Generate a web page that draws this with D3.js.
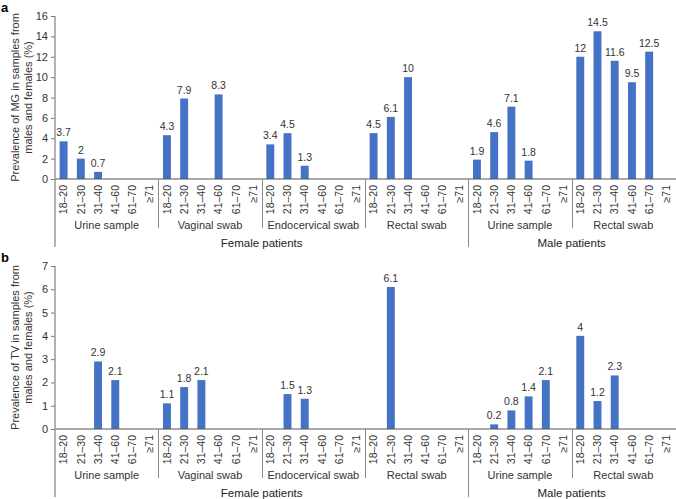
<!DOCTYPE html>
<html>
<head>
<meta charset="utf-8">
<script src="https://cdn.jsdelivr.net/npm/d3@7"></script>
<style>
  html, body { margin: 0; padding: 0; background: #fff; }
  svg { display: block; font-family: "Liberation Sans", Arial, Helvetica, sans-serif; }
</style>
</head>
<body>
<svg id="chart" width="676" height="499"></svg>
<script>
// ---------------- data ----------------
const ageGroups = ["18–20", "21–30", "31–40", "41–60", "61–70", "≥71"];
const sampleTypes = ["Urine sample", "Vaginal swab", "Endocervical swab", "Rectal swab", "Urine sample", "Rectal swab"];
const patientGroups = ["Female patients", "Male patients"];
const patientGroupSizes = [4, 2];

// Panel a: MG prevalence (%) per sample type, per age group (null = no bar)
const mgValues = [
  [3.7, 2, 0.7, null, null, null],
  [4.3, 7.9, null, 8.3, null, null],
  [3.4, 4.5, 1.3, null, null, null],
  [4.5, 6.1, 10, null, null, null],
  [1.9, 4.6, 7.1, 1.8, null, null],
  [12, 14.5, 11.6, 9.5, 12.5, null]
];
// Panel b: TV prevalence (%)
const tvValues = [
  [null, null, 2.9, 2.1, null, null],
  [1.1, 1.8, 2.1, null, null, null],
  [null, 1.5, 1.3, null, null, null],
  [null, 6.1, null, null, null, null],
  [null, 0.2, 0.8, 1.4, 2.1, null],
  [4, 1.2, 2.3, null, null, null]
];
const mgTicks = [0, 2, 4, 6, 8, 10, 12, 14, 16];
const tvTicks = [0, 1, 2, 3, 4, 5, 6, 7];

const panels = [
  { letter: "a", values: mgValues, ticks: mgTicks, max: 16, yTitle: ["Prevalence of MG in samples from", "males and females (%)"], top: 16 },
  { letter: "b", values: tvValues, ticks: tvTicks, max: 7, yTitle: ["Prevalence of TV in samples from", "males and females (%)"], top: 266 }
];

// ---------------- layout ----------------
const svg = d3.select("#chart");
const left = 55, right = 675;
const plotH = 163;
const barColor = "#4472C4";
const textColor = "#333333";

const keys = [];
sampleTypes.forEach((s, i) => ageGroups.forEach(a => keys.push(i + "|" + a)));
const x = d3.scaleBand().domain(keys).range([left, right]).padding(0);
const bw = x.bandwidth() * 0.46;

panels.forEach(p => {
  const g = svg.append("g");
  const y0 = p.top + plotH;
  const y = d3.scaleLinear().domain([0, p.max]).range([y0, p.top]);

  // panel letter
  g.append("text").attr("x", 1).attr("y", p.top - 4)
    .attr("font-size", 13).attr("font-weight", "bold").attr("fill", "#000")
    .text(p.letter);

  // y axis
  const ya = g.append("g").attr("transform", `translate(${left},0)`)
    .call(d3.axisLeft(y).tickValues(p.ticks).tickSize(4).tickPadding(3).tickFormat(d3.format("d")));
  ya.select(".domain").remove();
  ya.selectAll(".tick line").attr("stroke", "#777");
  ya.selectAll(".tick text").attr("font-size", 11).attr("fill", textColor)
    .attr("font-family", "'Liberation Sans', Arial, sans-serif");

  // y title
  const yt = g.append("text")
    .attr("transform", `translate(15,${(p.top + y0) / 2}) rotate(-90)`)
    .attr("text-anchor", "middle").attr("font-size", 11).attr("fill", textColor);
  p.yTitle.forEach((t, i) => yt.append("tspan").attr("x", 0).attr("dy", i === 0 ? "0.35em" : "1.2em").text(t));

  // bars
  const data = [];
  p.values.forEach((row, i) => row.forEach((v, j) => { if (v !== null) data.push({ key: i + "|" + ageGroups[j], v }); }));
  g.selectAll("rect.bar").data(data).join("rect").attr("class", "bar")
    .attr("x", d => x(d.key) + (x.bandwidth() - bw) / 2)
    .attr("width", bw)
    .attr("y", d => y(d.v))
    .attr("height", d => y0 - y(d.v))
    .attr("fill", barColor);
  g.selectAll("text.val").data(data).join("text").attr("class", "val")
    .attr("x", d => x(d.key) + x.bandwidth() / 2)
    .attr("y", d => y(d.v) - 5)
    .attr("text-anchor", "middle").attr("font-size", 10.5).attr("fill", textColor)
    .text(d => d3.format("")(d.v));

  // x axis baseline
  g.append("line").attr("x1", left).attr("x2", 676).attr("y1", y0).attr("y2", y0)
    .attr("stroke", "#555").attr("stroke-width", 1);
  // left vertical axis line (extends down past the labels)
  g.append("line").attr("x1", left).attr("x2", left).attr("y1", p.top).attr("y2", y0 + 68)
    .attr("stroke", "#999").attr("stroke-width", 1.5);

  // age tick labels
  g.selectAll("text.age").data(keys).join("text").attr("class", "age")
    .attr("transform", k => `translate(${x(k) + x.bandwidth() / 2},${y0 + 6}) rotate(-90)`)
    .attr("text-anchor", "end").attr("dy", "0.35em")
    .attr("font-size", 10.5).attr("fill", textColor)
    .text(k => k.split("|")[1]);

  // sample type labels and separators
  sampleTypes.forEach((s, i) => {
    const x1 = x(i + "|" + ageGroups[0]);
    const x2 = x(i + "|" + ageGroups[5]) + x.bandwidth();
    g.append("text").attr("x", (x1 + x2) / 2).attr("y", y0 + 50)
      .attr("text-anchor", "middle").attr("font-size", 11).attr("fill", textColor).text(s);
  });
  let idx = 0;
  patientGroupSizes.forEach((n, pi) => {
    const x1 = x(idx + "|" + ageGroups[0]);
    const x2 = x((idx + n - 1) + "|" + ageGroups[5]) + x.bandwidth();
    for (let k = 1; k < n; k++) {
      const xs = Math.round(x((idx + k) + "|" + ageGroups[0])) + 0.5;
      g.append("line").attr("x1", xs).attr("x2", xs).attr("y1", y0).attr("y2", y0 + 49)
        .attr("stroke", "#888").attr("stroke-width", 1);
    }
    if (pi > 0) {
      g.append("line").attr("x1", Math.round(x1) + 0.5).attr("x2", Math.round(x1) + 0.5)
        .attr("y1", y0).attr("y2", y0 + 68).attr("stroke", "#888").attr("stroke-width", 1);
    }
    g.append("text").attr("x", (x1 + x2) / 2).attr("y", y0 + 68)
      .attr("text-anchor", "middle").attr("font-size", 11.5).attr("fill", "#222").text(patientGroups[pi]);
    idx += n;
  });
});
</script>
</body>
</html>
